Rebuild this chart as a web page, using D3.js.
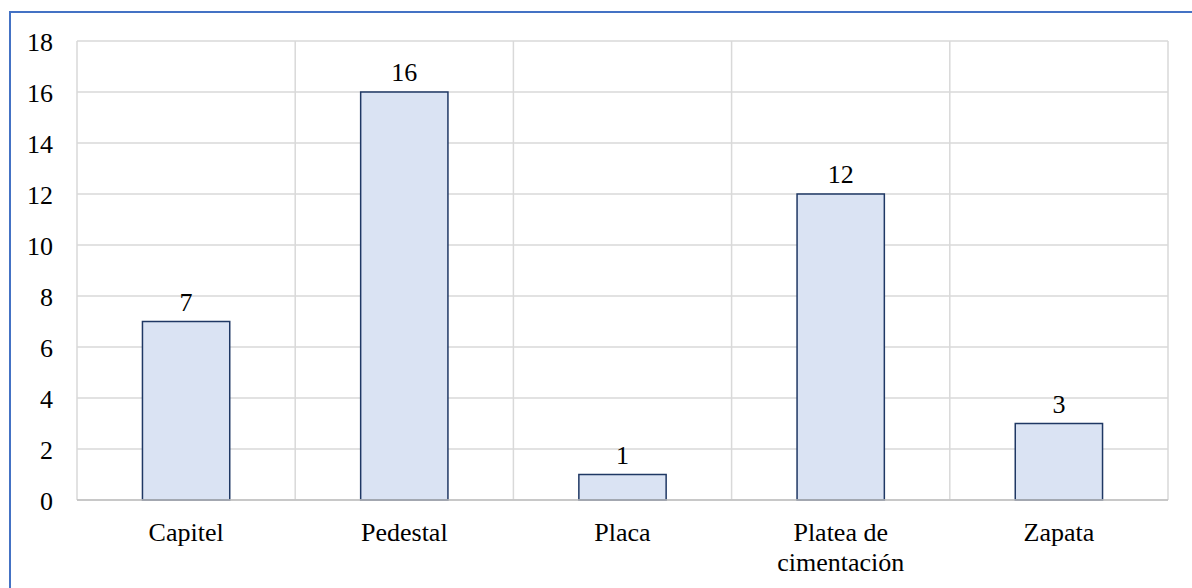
<!DOCTYPE html>
<html>
<head>
<meta charset="utf-8">
<script src="https://cdn.jsdelivr.net/npm/d3@7"></script>
<style>
  html, body { margin: 0; padding: 0; background: #fff; }
  svg { display: block; }
</style>
</head>
<body>
<svg id="chart" width="1192" height="588"></svg>
<script>
// Element types and their counts
const categories = ["Capitel", "Pedestal", "Placa", "Platea de cimentación", "Zapata"];
const counts = [7, 16, 1, 12, 3];
const yTicks = [0, 2, 4, 6, 8, 10, 12, 14, 16, 18];

const W = 1192, H = 588;
const plot = { left: 77, right: 1168, top: 41, bottom: 500 };
const fontSize = 26;
const serif = "Liberation Serif";

const svg = d3.select("#chart");

// Outer frame (runs past the right and bottom edges)
svg.append("rect")
  .attr("x", 10).attr("y", 12)
  .attr("width", W + 20).attr("height", H + 20)
  .attr("fill", "none")
  .attr("stroke", "#4472c4")
  .attr("stroke-width", 2);

const x = d3.scaleBand()
  .domain(categories)
  .range([plot.left, plot.right])
  .paddingInner(0).paddingOuter(0);

const y = d3.scaleLinear()
  .domain([0, 18])
  .range([plot.bottom, plot.top]);

const barWidth = x.bandwidth() / 2.5;

// Horizontal gridlines
svg.append("g")
  .selectAll("line")
  .data(yTicks)
  .join("line")
  .attr("x1", plot.left).attr("x2", plot.right)
  .attr("y1", d => y(d)).attr("y2", d => y(d))
  .attr("stroke", "#d9d9d9")
  .attr("stroke-width", 1.5);

// Vertical gridlines at category boundaries
const bounds = categories.map(c => x(c)).concat([plot.right]);
svg.append("g")
  .selectAll("line")
  .data(bounds)
  .join("line")
  .attr("x1", d => d).attr("x2", d => d)
  .attr("y1", plot.top).attr("y2", plot.bottom)
  .attr("stroke", "#d9d9d9")
  .attr("stroke-width", 1.5);

// Y axis labels
const yAxis = d3.axisLeft(y).tickValues(yTicks).tickSize(0).tickPadding(24);
const yg = svg.append("g")
  .attr("transform", `translate(${plot.left},0)`)
  .call(yAxis)
  .attr("font-family", serif)
  .attr("font-size", fontSize);
yg.select(".domain").remove();
yg.selectAll("text")
  .attr("font-family", serif)
  .attr("font-size", fontSize)
  .attr("fill", "#000")
  .attr("dy", "0.37em");

// Bars
svg.append("g")
  .selectAll("rect")
  .data(categories)
  .join("rect")
  .attr("x", (c) => x(c) + (x.bandwidth() - barWidth) / 2)
  .attr("y", (c, i) => y(counts[i]))
  .attr("width", barWidth)
  .attr("height", (c, i) => y(0) - y(counts[i]))
  .attr("fill", "#dae3f3")
  .attr("stroke", "#1f3864")
  .attr("stroke-width", 1.5);

// Baseline
svg.append("line")
  .attr("x1", plot.left).attr("x2", plot.right)
  .attr("y1", y(0)).attr("y2", y(0))
  .attr("stroke", "#bfbfbf")
  .attr("stroke-width", 1.5);

// Value labels
svg.append("g")
  .selectAll("text")
  .data(categories)
  .join("text")
  .attr("x", c => x(c) + x.bandwidth() / 2)
  .attr("y", (c, i) => y(counts[i]) - 11)
  .attr("text-anchor", "middle")
  .attr("font-family", serif)
  .attr("font-size", fontSize)
  .attr("fill", "#000")
  .text((c, i) => counts[i]);

// Category labels, wrapped to a maximum width
const xAxis = d3.axisBottom(x).tickSize(0).tickPadding(0);
const xg = svg.append("g")
  .attr("transform", `translate(0,${plot.bottom})`)
  .call(xAxis)
  .attr("font-family", serif)
  .attr("font-size", fontSize);
xg.select(".domain").remove();
xg.selectAll("text").remove();
const maxW = 130;
const measurer = svg.append("text")
  .attr("font-family", serif)
  .attr("font-size", fontSize)
  .attr("visibility", "hidden");
function wrapWords(label) {
  const words = label.split(" ");
  const lines = [];
  let cur = "";
  words.forEach(w => {
    const test = cur ? cur + " " + w : w;
    measurer.text(test);
    if (measurer.node().getComputedTextLength() > maxW && cur) {
      lines.push(cur);
      cur = w;
    } else {
      cur = test;
    }
  });
  if (cur) lines.push(cur);
  return lines;
}
xg.selectAll("g.tick").each(function(c) {
  const t = d3.select(this).append("text")
    .attr("y", 41)
    .attr("text-anchor", "middle")
    .attr("font-family", serif)
    .attr("font-size", fontSize)
    .attr("fill", "#000");
  wrapWords(c).forEach((line, i) => {
    t.append("tspan").attr("x", 0).attr("dy", i === 0 ? 0 : 30).text(line);
  });
});
measurer.remove();
</script>
</body>
</html>
